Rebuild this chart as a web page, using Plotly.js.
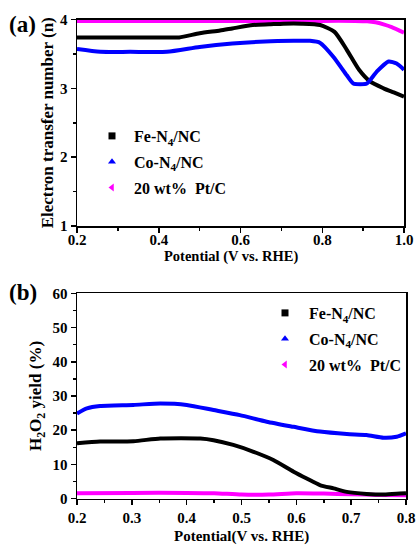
<!DOCTYPE html>
<html>
<head>
<meta charset="utf-8">
<script src="https://cdn.plot.ly/plotly-3.0.1.min.js"></script>
<style>
  html, body { margin: 0; padding: 0; background: #fff; }
  #chart { width: 416px; height: 545px; }
</style>
</head>
<body>
<div id="chart"></div>
<script>
// Panel (a): electron transfer number vs potential
const potA = [0.20, 0.26, 0.33, 0.40, 0.45, 0.50, 0.55, 0.58, 0.63, 0.67, 0.705, 0.75, 0.795, 0.83, 0.86, 0.89, 0.917, 0.95, 0.975, 1.00];
const feA  = [3.74, 3.74, 3.74, 3.74, 3.74, 3.80, 3.84, 3.87, 3.92, 3.93, 3.94, 3.94, 3.92, 3.82, 3.56, 3.27, 3.10, 3.00, 2.94, 2.88];

const potCoA = [0.20, 0.257, 0.33, 0.42, 0.50, 0.58, 0.66, 0.73, 0.77, 0.795, 0.827, 0.86, 0.876, 0.893, 0.909, 0.933, 0.962, 0.982, 1.00];
const coA    = [3.57, 3.53, 3.53, 3.53, 3.60, 3.65, 3.68, 3.69, 3.69, 3.66, 3.46, 3.19, 3.07, 3.06, 3.07, 3.24, 3.39, 3.36, 3.27];

const potPtA = [0.20, 0.30, 0.40, 0.50, 0.60, 0.70, 0.80, 0.88, 0.91, 0.93, 0.95, 0.97, 1.00];
const ptA    = [3.98, 3.98, 3.98, 3.98, 3.98, 3.98, 3.98, 3.98, 3.975, 3.96, 3.93, 3.89, 3.81];

// Panel (b): H2O2 yield vs potential
const potB = [0.20, 0.218, 0.242, 0.303, 0.352, 0.40, 0.449, 0.497, 0.546, 0.595, 0.643, 0.692, 0.728, 0.759, 0.783, 0.80];
const coB  = [24.9, 26.4, 27.1, 27.4, 27.8, 27.4, 25.9, 24.4, 22.5, 21.0, 19.6, 18.9, 18.6, 17.8, 18.1, 19.1];

const potFeB = [0.20, 0.242, 0.303, 0.352, 0.425, 0.449, 0.485, 0.522, 0.558, 0.595, 0.619, 0.643, 0.668, 0.692, 0.728, 0.76, 0.789, 0.80];
const feB    = [16.2, 16.7, 16.8, 17.6, 17.6, 17.1, 15.7, 13.7, 11.3, 7.9, 5.9, 4.0, 3.0, 2.0, 1.4, 1.2, 1.5, 1.6];

const potPtB = [0.20, 0.30, 0.40, 0.45, 0.50, 0.55, 0.60, 0.65, 0.70, 0.75, 0.80];
const ptB    = [1.6, 1.7, 1.7, 1.6, 1.2, 1.2, 1.6, 1.5, 1.3, 1.1, 1.0];

const seriesNames = ['Fe-N<sub>4</sub>/NC', 'Co-N<sub>4</sub>/NC', '20 wt%  Pt/C'];
const seriesColors = ['#000000', '#0000ff', '#ff00ff'];
const seriesSymbols = ['square', 'triangle-up', 'triangle-left'];

const W = 416, H = 545;
const px = v => v / W;
const py = v => 1 - v / H;

const serif = 'Liberation Serif';
const lineW = 4;

function curve(x, y, color, xa, ya) {
  return { x, y, xaxis: xa, yaxis: ya, type: 'scatter', mode: 'lines',
           line: { color, width: lineW, shape: 'spline', smoothing: 0.6 },
           showlegend: false, hoverinfo: 'skip' };
}
function key(i, legendId, xa, ya) {
  return { x: [null], y: [null], xaxis: xa, yaxis: ya, type: 'scatter', mode: 'markers',
           name: seriesNames[i], legend: legendId, legendgroup: legendId + i,
           marker: { color: seriesColors[i], symbol: seriesSymbols[i], size: 7 } };
}

const data = [
  curve(potPtA, ptA, seriesColors[2], 'x', 'y'),
  curve(potA, feA, seriesColors[0], 'x', 'y'),
  curve(potCoA, coA, seriesColors[1], 'x', 'y'),
  curve(potPtB, ptB, seriesColors[2], 'x2', 'y2'),
  curve(potB, coB, seriesColors[1], 'x2', 'y2'),
  curve(potFeB, feB, seriesColors[0], 'x2', 'y2'),
  key(0, 'legend', 'x', 'y'), key(1, 'legend', 'x', 'y'), key(2, 'legend', 'x', 'y'),
  key(0, 'legend2', 'x2', 'y2'), key(1, 'legend2', 'x2', 'y2'), key(2, 'legend2', 'x2', 'y2')
];

const tickFont = { family: serif, size: 15, color: '#000', weight: 'bold' };
const yTitleFont = { family: serif, size: 17, color: '#000', weight: 'bold' };
const legendFont = { family: serif, size: 16, color: '#000', weight: 'bold' };

function axis(extra) {
  return Object.assign({
    showline: true, linecolor: '#000', linewidth: 1.5, mirror: true,
    ticks: 'outside', ticklen: 5, tickwidth: 1.5, tickcolor: '#000',
    showgrid: false, zeroline: false, tickfont: tickFont,
    fixedrange: true
  }, extra);
}
const minorTicks = d => ({ dtick: d, ticks: 'outside', ticklen: 3, tickwidth: 1.5, tickcolor: '#000' });

function label(text, x, y, size, anchor) {
  return { text, xref: 'paper', yref: 'paper', x: px(x), y: py(y),
           xanchor: anchor, yanchor: 'middle', showarrow: false, borderpad: 0,
           font: { family: serif, size, color: '#000', weight: 'bold' } };
}

const layout = {
  width: W, height: H,
  margin: { l: 0, r: 0, t: 0, b: 0 },
  paper_bgcolor: '#fff', plot_bgcolor: '#fff',
  font: { family: serif, color: '#000' },
  xaxis: axis({ domain: [px(77), px(404)], range: [0.2, 1.0], dtick: 0.2, tickformat: '.1f',
                anchor: 'y', minor: minorTicks(0.1), ticklabelstandoff: -6 }),
  yaxis: axis({ domain: [py(226), py(19.5)], range: [1, 4], dtick: 1, anchor: 'x',
                minor: minorTicks(0.5),
                title: { text: 'Electron transfer number (n)', font: yTitleFont, standoff: 2 } }),
  xaxis2: axis({ domain: [px(77), px(406)], range: [0.2, 0.8], dtick: 0.1, tickformat: '.1f',
                 anchor: 'y2', minor: minorTicks(0.05) }),
  yaxis2: axis({ domain: [py(498.7), py(293.3)], range: [0, 60], dtick: 10, anchor: 'x2',
                 minor: minorTicks(5),
                 title: { text: 'H<sub>2</sub>O<sub>2</sub> yield (%)', font: yTitleFont, standoff: 6 } }),
  legend: { x: px(90), y: py(119), xanchor: 'left', yanchor: 'top', itemwidth: 34,
            bgcolor: 'rgba(0,0,0,0)', borderwidth: 0, tracegroupgap: 2, font: legendFont },
  legend2: { x: px(261), y: py(296), xanchor: 'left', yanchor: 'top', itemwidth: 38,
             bgcolor: 'rgba(0,0,0,0)', borderwidth: 0, tracegroupgap: 2, font: legendFont },
  annotations: [
    label('(a)', 8, 25, 23, 'left'),
    label('(b)', 8, 292, 23, 'left'),
    label('Potential (V vs. RHE)', 231, 256, 14.5, 'center'),
    label('Potential(V vs. RHE)', 241, 536, 15, 'center')
  ]
};

Plotly.newPlot('chart', data, layout, { staticPlot: true, displayModeBar: false });
</script>
</body>
</html>
